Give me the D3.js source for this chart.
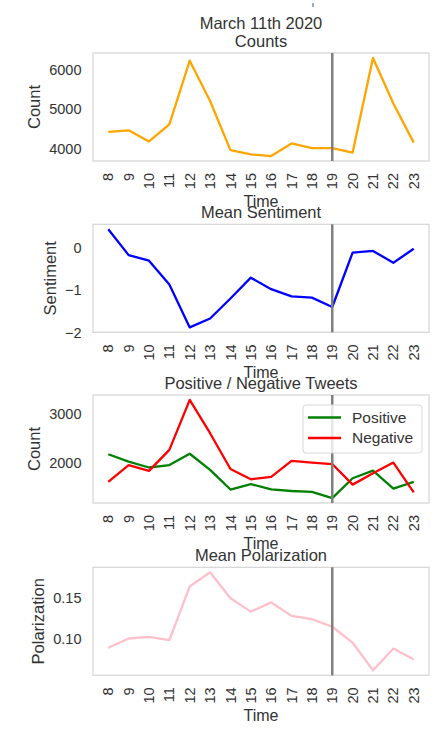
<!DOCTYPE html>
<html>
<head>
<meta charset="utf-8">
<script src="https://cdn.jsdelivr.net/npm/d3@7/dist/d3.min.js"></script>
<style>
  body { margin: 0; background: #fff; }
  svg { display: block; font-family: "Liberation Sans", Arial, sans-serif; }
</style>
</head>
<body>
<div id="chart"></div>
<script>
// hours of the day on the x axis
var hours = [8, 9, 10, 11, 12, 13, 14, 15, 16, 17, 18, 19, 20, 21, 22, 23];
var markHour = 19;

// tweet counts per hour
var counts = [4420, 4460, 4180, 4610, 6220, 5200, 3960, 3855, 3810, 4130, 4010, 4010, 3900, 6290, 5140, 4150];
// mean sentiment per hour
var sentiment = [0.43, -0.18, -0.31, -0.87, -1.88, -1.67, -1.20, -0.71, -0.98, -1.15, -1.18, -1.40, -0.12, -0.08, -0.36, -0.03];
// positive / negative tweet counts
var positive = [2170, 2020, 1900, 1950, 2180, 1850, 1450, 1560, 1455, 1420, 1400, 1275, 1680, 1835, 1470, 1605];
var negative = [1607, 1950, 1830, 2260, 3280, 2600, 1870, 1660, 1710, 2035, 2000, 1970, 1550, 1780, 2000, 1390];
// mean polarization
var polarization = [0.090, 0.101, 0.103, 0.099, 0.163, 0.180, 0.149, 0.133, 0.144, 0.128, 0.124, 0.115, 0.096, 0.063, 0.089, 0.076];

// y tick values per panel
var countTicks = [4000, 5000, 6000];
var sentimentTicks = [-2, -1, 0];
var posNegTicks = [2000, 3000];
var polarTicks = [0.10, 0.15];

var width = 438, height = 736;
var left = 93, right = 429, panelH = 108;
var tops = [53, 224.3, 395, 567.3];
var textColor = "#333";

var svg = d3.select("#chart")
  .append("svg")
  .attr("width", width)
  .attr("height", height);

// tiny artifact at top of the original image
svg.append("line")
  .attr("x1", 313).attr("x2", 313)
  .attr("y1", 3).attr("y2", 7)
  .style("stroke", "#8090a8")
  .style("stroke-width", 1.5);

// x scale shared by every panel (matplotlib style 5% margins)
var xPad = (d3.max(hours) - d3.min(hours)) * 0.05;
var x = d3.scaleLinear()
  .domain([d3.min(hours) - xPad, d3.max(hours) + xPad])
  .range([left, right]);

function drawPanel(cfg) {
  var top = cfg.top, bottom = top + panelH;
  var all = [].concat.apply([], cfg.series.map(function (s) { return s.values; }));
  var lo = d3.min(all), hi = d3.max(all), pad = (hi - lo) * 0.05;
  var y = d3.scaleLinear()
    .domain([lo - pad, hi + pad])
    .range([bottom, top]);

  var g = svg.append("g");

  // frame
  g.append("rect")
    .attr("x", left).attr("y", top)
    .attr("width", right - left).attr("height", panelH)
    .style("fill", "none")
    .style("stroke", "#d4d4d4")
    .style("stroke-width", 1.2);

  // lines
  var line = d3.line()
    .x(function (d, i) { return x(hours[i]); })
    .y(function (d) { return y(d); });

  cfg.series.forEach(function (s) {
    g.append("path")
      .datum(s.values)
      .attr("d", line)
      .style("fill", "none")
      .style("stroke", s.color)
      .style("stroke-width", 2.3)
      .style("stroke-linejoin", "round");
  });

  // vertical marker
  g.append("line")
    .attr("x1", x(markHour)).attr("x2", x(markHour))
    .attr("y1", top).attr("y2", bottom)
    .style("stroke", "#808080")
    .style("stroke-width", 2.5);

  // y axis
  var axisX = left - 11.5;
  var yAxis = g.append("g")
    .attr("transform", "translate(" + axisX + ",0)")
    .call(d3.axisLeft(y).tickValues(cfg.ticks).tickSize(0).tickPadding(0).tickFormat(cfg.fmt));
  yAxis.select(".domain").remove();
  yAxis.selectAll("text")
    .style("font-size", "14.5px")
    .style("fill", textColor)
    .style("font-family", "'Liberation Sans', Arial, sans-serif");

  // x tick labels (rotated)
  g.selectAll(".xt")
    .data(hours)
    .enter()
    .append("text")
    .attr("class", "xt")
    .attr("transform", function (d) { return "translate(" + x(d) + "," + (bottom + 12) + ") rotate(-90)"; })
    .attr("dy", "0.35em")
    .attr("text-anchor", "end")
    .style("font-size", "14.5px")
    .style("fill", textColor)
    .text(function (d) { return d; });

  // x label
  g.append("text")
    .attr("x", (left + right) / 2)
    .attr("y", bottom + 46)
    .attr("text-anchor", "middle")
    .style("font-size", "16px")
    .style("fill", textColor)
    .text("Time");

  // y label, placed left of the tick labels (bbox is in the axis group's own frame)
  var bb = yAxis.node().getBBox();
  g.append("text")
    .attr("transform", "translate(" + (axisX + bb.x - 9) + "," + (top + panelH / 2) + ") rotate(-90)")
    .attr("text-anchor", "middle")
    .style("font-size", "16.5px")
    .style("fill", textColor)
    .text(cfg.ylabel);

  // title
  g.append("text")
    .attr("x", (left + right) / 2)
    .attr("y", top - 6)
    .attr("text-anchor", "middle")
    .style("font-size", "16.5px")
    .style("fill", textColor)
    .text(cfg.title);

  if (cfg.legend) {
    var lg = g.append("g").attr("transform", "translate(303,405)");
    lg.append("rect")
      .attr("width", 119).attr("height", 48)
      .attr("rx", 3)
      .style("fill", "#fff")
      .style("fill-opacity", 0.8)
      .style("stroke", "#d8d8d8");
    cfg.series.forEach(function (s, i) {
      lg.append("line")
        .attr("x1", 5).attr("x2", 38)
        .attr("y1", 12.5 + i * 20.5).attr("y2", 12.5 + i * 20.5)
        .style("stroke", s.color)
        .style("stroke-width", 2.3);
      lg.append("text")
        .attr("x", 49)
        .attr("y", 12.5 + i * 20.5)
        .attr("dy", "0.35em")
        .style("font-size", "15.5px")
        .style("fill", textColor)
        .text(s.name);
    });
  }
}

// overall title
svg.append("text")
  .attr("x", (left + right) / 2)
  .attr("y", 28.5)
  .attr("text-anchor", "middle")
  .style("font-size", "16.5px")
  .style("fill", textColor)
  .text("March 11th 2020");

drawPanel({ top: tops[0], title: "Counts", ylabel: "Count", ticks: countTicks, fmt: d3.format("d"),
  series: [{ name: "Count", values: counts, color: "#FFA500" }] });
drawPanel({ top: tops[1], title: "Mean Sentiment", ylabel: "Sentiment", ticks: sentimentTicks, fmt: function (d) { return d < 0 ? "\u2212" + Math.abs(d) : d; },
  series: [{ name: "Sentiment", values: sentiment, color: "#0000FF" }] });
drawPanel({ top: tops[2], title: "Positive / Negative Tweets", ylabel: "Count", ticks: posNegTicks, fmt: d3.format("d"), legend: true,
  series: [{ name: "Positive", values: positive, color: "#008000" }, { name: "Negative", values: negative, color: "#FF0000" }] });
drawPanel({ top: tops[3], title: "Mean Polarization", ylabel: "Polarization", ticks: polarTicks, fmt: d3.format(".2f"),
  series: [{ name: "Polarization", values: polarization, color: "#FFC0CB" }] });
</script>
</body>
</html>
